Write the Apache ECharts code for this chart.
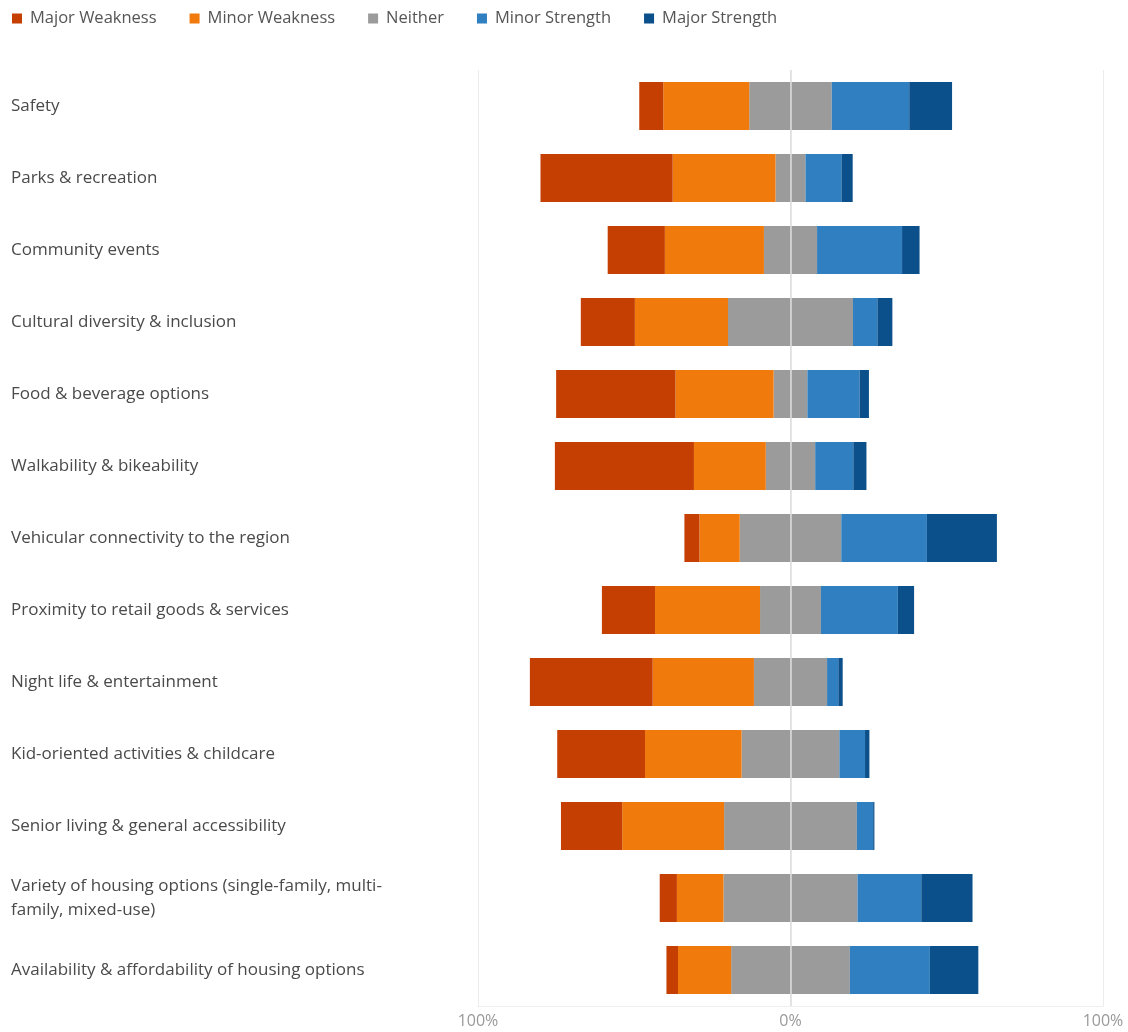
<!DOCTYPE html>
<html>
<head>
<meta charset="utf-8">
<script src="https://cdn.jsdelivr.net/npm/echarts@6/dist/echarts.min.js"></script>
<style>
  html, body { margin: 0; padding: 0; background: #ffffff; }
  #chart { width: 1128px; height: 1032px; }
</style>
</head>
<body>
<div id="chart"></div>
<script>
// Survey items, top to bottom
const categories = [
  'Safety',
  'Parks & recreation',
  'Community events',
  'Cultural diversity & inclusion',
  'Food & beverage options',
  'Walkability & bikeability',
  'Vehicular connectivity to the region',
  'Proximity to retail goods & services',
  'Night life & entertainment',
  'Kid-oriented activities & childcare',
  'Senior living & general accessibility',
  'Variety of housing options (single-family, multi-\nfamily, mixed-use)',
  'Availability & affordability of housing options'
];

// Share of responses (%) per rating
const majorWeakness = [7.7, 42.3, 18.3, 17.3, 38.2, 44.5, 4.8, 17.0, 39.3, 28.1, 19.6, 5.5, 3.7];
const minorWeakness = [27.5, 32.9, 31.7, 29.8, 31.4, 23.0, 12.9, 33.6, 32.4, 30.9, 32.6, 14.9, 17.0];
const neither       = [26.4, 9.6, 17.0, 40.0, 10.8, 15.8, 32.5, 19.5, 23.4, 31.3, 42.5, 42.9, 38.0];
const minorStrength = [24.8, 11.5, 27.2, 7.8, 16.7, 12.2, 27.4, 24.6, 3.6, 8.2, 5.2, 20.4, 25.6];
const majorStrength = [13.7, 3.6, 5.6, 4.8, 3.0, 4.2, 22.4, 5.2, 1.4, 1.4, 0.4, 16.4, 15.5];

const axisTicks = [-100, 0, 100];

const colors = {
  majorWeakness: '#C53F02',
  minorWeakness: '#F07A0C',
  neither: '#9B9B9B',
  minorStrength: '#2F7FC1',
  majorStrength: '#0B4F8B'
};

const font = '"Open Sans", "Noto Sans", sans-serif';

// Neutral answers are split evenly across the zero line
const neitherLeft = neither.map(v => -v / 2);
const neitherRight = neither.map(v => v / 2);
const neg = arr => arr.map(v => -v);

function barSeries(name, data, color, extra) {
  return Object.assign({
    name: name,
    type: 'bar',
    stack: 'rating',
    data: data,
    barWidth: 48,
    itemStyle: { color: color },
    emphasis: { disabled: true }
  }, extra || {});
}

const chart = echarts.init(document.getElementById('chart'), null, { renderer: 'canvas' });

chart.setOption({
  animation: false,
  backgroundColor: '#ffffff',
  textStyle: { fontFamily: font },
  legend: {
    top: 5,
    left: 7,
    itemWidth: 13,
    itemHeight: 10,
    itemGap: 33,
    icon: 'path://M0,0H10V10H0ZM13,10H13.001',
    textStyle: { fontFamily: font, fontSize: 16.5, color: '#555555' },
    data: ['Major Weakness', 'Minor Weakness', 'Neither', 'Minor Strength', 'Major Strength']
  },
  grid: { left: 478, right: 25, top: 70, bottom: 26, containLabel: false },
  xAxis: {
    type: 'value',
    min: axisTicks[0],
    max: axisTicks[axisTicks.length - 1],
    interval: 100,
    axisLine: { show: true, lineStyle: { color: '#eeeeee' } },
    axisTick: { show: false },
    splitLine: { show: true, lineStyle: { color: '#ececec', width: 1 } },
    axisLabel: {
      fontFamily: font,
      fontSize: 16,
      color: '#999999',
      margin: 7,
      formatter: v => Math.abs(v) + '%'
    }
  },
  yAxis: {
    type: 'category',
    inverse: true,
    data: categories,
    axisLine: { show: false },
    axisTick: { show: false },
    axisLabel: {
      fontFamily: font,
      fontSize: 17,
      color: '#4a4a4a',
      align: 'left',
      margin: 467,
      lineHeight: 24
    }
  },
  series: [
    barSeries('Neither', neitherLeft, colors.neither, {
      markLine: {
        silent: true,
        symbol: 'none',
        label: { show: false },
        lineStyle: { color: '#dcdcdc', type: 'solid', width: 1.5 },
        z: 10,
        data: [{ xAxis: 0 }]
      }
    }),
    barSeries('Minor Weakness', neg(minorWeakness), colors.minorWeakness),
    barSeries('Major Weakness', neg(majorWeakness), colors.majorWeakness),
    barSeries('Neither', neitherRight, colors.neither),
    barSeries('Minor Strength', minorStrength, colors.minorStrength),
    barSeries('Major Strength', majorStrength, colors.majorStrength)
  ]
});
</script>
</body>
</html>
